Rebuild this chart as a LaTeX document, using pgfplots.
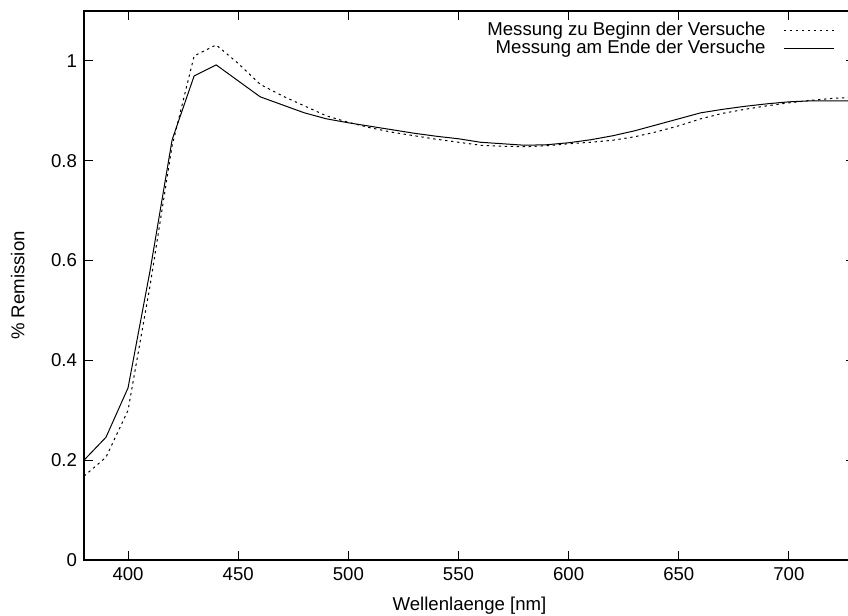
\documentclass[border=0pt]{standalone}
\usepackage{pgfplots}
\pgfplotsset{compat=1.18}
\usepackage{fontspec}
\setmainfont{Liberation Sans}
\begin{document}
\begin{tikzpicture}
\begin{axis}[
  name=ax,
  scale only axis,
  width=385.5pt, height=274.5pt,
  xmin=380, xmax=730, ymin=0, ymax=1.1,
  xtick={400,450,...,700},
  ytick={0,0.2,...,1.0},
  tick align=inside,
  major tick length=4.3pt,
  axis line style={line width=0.8pt},
  every tick/.style={black, line width=0.5pt},
  /pgf/number format/assume math mode=true,
  font=\fontsize{9.3}{10}\selectfont,
  tick label style={font=\fontsize{9.3}{10}\selectfont},
  xlabel={Wellenlaenge [nm]},
  ylabel={\% Remission},
  every axis y label/.style={at={(axis description cs:-0.086,0.5)}, rotate=90, anchor=center},
  every axis x label/.style={at={(axis description cs:0.5,-0.083)}, anchor=center},
  legend plot pos=right,
  legend cell align=right,
  legend style={at={(0.974,0.988)}, anchor=north east, draw=none, fill=none, inner sep=0pt, row sep=-3pt, font=\fontsize{9.3}{10}\selectfont},
  legend image code/.code={\path (0pt,0pt); \draw[#1] (7pt,0pt) -- (32pt,0pt);},
]
\addplot[black, line width=0.5pt, dash pattern=on 1.2pt off 1.8pt] coordinates {
(380,0.168) (390,0.206) (400,0.300) (410,0.550) (420,0.830) (430,1.010) (440,1.032) (450,0.995) (460,0.953) (470,0.930) (480,0.910) (490,0.890) (500,0.877) (510,0.866) (520,0.857) (530,0.850) (540,0.843) (550,0.837) (560,0.831) (570,0.829) (580,0.828) (590,0.830) (600,0.834) (610,0.837) (620,0.841) (630,0.848) (640,0.858) (650,0.870) (660,0.884) (670,0.895) (680,0.903) (690,0.910) (700,0.916) (710,0.921) (720,0.925) (730,0.927)
};
\addlegendentry{Messung zu Beginn der Versuche}
\addplot[black, line width=0.5pt] coordinates {
(380,0.200) (390,0.246) (400,0.345) (410,0.580) (420,0.842) (430,0.970) (440,0.992) (450,0.960) (460,0.928) (470,0.912) (480,0.896) (490,0.884) (500,0.876) (510,0.869) (520,0.862) (530,0.855) (540,0.849) (550,0.844) (560,0.837) (570,0.834) (580,0.831) (590,0.832) (600,0.836) (610,0.842) (620,0.850) (630,0.860) (640,0.872) (650,0.884) (660,0.896) (670,0.903) (680,0.909) (690,0.914) (700,0.918) (710,0.920) (720,0.920) (730,0.920)
};
\addlegendentry{Messung am Ende der Versuche}
\end{axis}
\pgfresetboundingbox
\path[use as bounding box] (ax.south west) ++(-42pt,-28pt) rectangle ++(424pt,308pt);
\end{tikzpicture}
\end{document}
